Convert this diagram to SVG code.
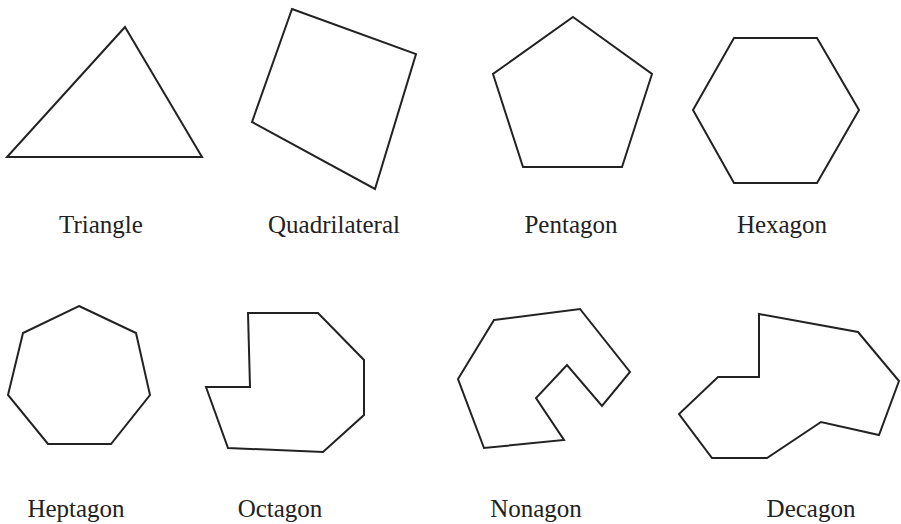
<svg xmlns="http://www.w3.org/2000/svg" width="901" height="524" viewBox="0 0 901 524">
<style>
.s{fill:none;stroke:#222;stroke-width:2;stroke-linejoin:miter}
.t{font-family:"Liberation Serif","Times New Roman",serif;font-size:25px;fill:#222;text-anchor:middle}
</style>
<rect width="901" height="524" fill="#fff"/>
<g id="triangle"><polygon class="s" points="125,27 202,157 7,157"/><text class="t" x="101" y="233">Triangle</text></g>
<g id="quadrilateral"><polygon class="s" points="292,9 416,54 375,189 252,122"/><text class="t" x="334" y="233">Quadrilateral</text></g>
<g id="pentagon"><polygon class="s" points="573,17 652,74 622,167 523,167 493,74"/><text class="t" x="571" y="233">Pentagon</text></g>
<g id="hexagon"><polygon class="s" points="734,38 817,38 859,110 817,183 734,183 693,110"/><text class="t" x="782" y="233">Hexagon</text></g>
<g id="heptagon"><polygon class="s" points="79,306 136,333 150,395 111,444 48,444 8,395 23,333"/><text class="t" x="76" y="517">Heptagon</text></g>
<g id="octagon"><polygon class="s" points="248,313 318,313 364,360 364,415 323,452 228,448 206,387 250,387"/><text class="t" x="280" y="517">Octagon</text></g>
<g id="nonagon"><polygon class="s" points="494,320 580,309 630,372 602,406 567,365 536,398 564,440 484,448 458,379"/><text class="t" x="536" y="517">Nonagon</text></g>
<g id="decagon"><polygon class="s" points="759,314 858,332 899,381 879,435 821,422 767,458 712,458 679,414 718,377 759,377"/><text class="t" x="811" y="517">Decagon</text></g>
<g id="connectors"></g>
</svg>
